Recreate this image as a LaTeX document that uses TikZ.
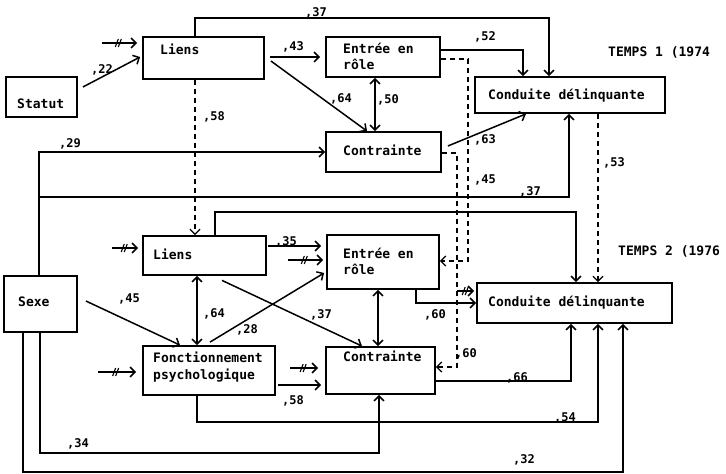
\documentclass[tikz,border=0pt]{standalone}
\usepackage{fontspec}
\setmonofont{DejaVu Sans Mono}
\usetikzlibrary{arrows.meta,decorations.markings}
\begin{document}
\begin{tikzpicture}[x=1pt,y=-1pt,
  box/.style={draw, line width=1.8pt, inner sep=0pt},
  txt/.style={font=\ttfamily\bfseries\fontsize{13}{16}\selectfont, inner sep=0pt, anchor=base west},
  lab/.style={font=\ttfamily\bfseries\fontsize{12}{14}\selectfont, inner sep=0pt, anchor=base west},
  conn/.style={line width=1.5pt, -{Straight Barb[length=5pt,width=10pt]}},
  both/.style={line width=1.5pt, {Straight Barb[length=5pt,width=10pt]}-{Straight Barb[length=5pt,width=10pt]}},
  dconn/.style={conn, line width=1.3pt, dash pattern=on 5pt off 4pt},
  exo/.style={conn, postaction={decorate}, decoration={markings, mark=at position 0.45 with {\draw[line width=1.1pt,-] (-2.5pt,-4pt) -- (0.5pt,4pt); \draw[line width=1.1pt,-] (0.5pt,-4pt) -- (3.5pt,4pt);}}}
]
\fill[white] (0,0) rectangle (726,474);
\useasboundingbox (0,0) rectangle (726,474);

% ---- boxes, TEMPS 1
\node[box, minimum width=121pt, minimum height=42pt] (liensA) at (203.5,58) {};
\node[box, minimum width=71pt, minimum height=40pt] (statut) at (41.5,97) {};
\node[box, minimum width=114pt, minimum height=40pt] (entreeA) at (383,57) {};
\node[box, minimum width=115pt, minimum height=40pt] (contrA) at (383.5,152) {};
\node[box, minimum width=190pt, minimum height=36pt] (condA) at (570,95) {};
% ---- boxes, TEMPS 2
\node[box, minimum width=73pt, minimum height=56pt] (sexe) at (40.5,304) {};
\node[box, minimum width=123pt, minimum height=39pt] (liensB) at (204.5,255.5) {};
\node[box, minimum width=112pt, minimum height=54pt] (entreeB) at (383,262) {};
\node[box, minimum width=195pt, minimum height=40pt] (condB) at (574.5,303) {};
\node[box, minimum width=132pt, minimum height=49pt] (fonct) at (209,370.5) {};
\node[box, minimum width=109pt, minimum height=47pt] (contrB) at (380.5,370.5) {};

% ---- texts
\node[txt] (tLiensA) at (160,54) {Liens};
\node[txt] (tStatut) at (17,108) {Statut};
\node[txt] (tEntA1) at (343,53) {Entrée en};
\node[txt] (tEntA2) at (343,69) {rôle};
\node[txt] (tContrA) at (343,155) {Contrainte};
\node[txt] (tCondA) at (488,99) {Conduite délinquante};
\node[txt] (tTemps1) at (608,56) {TEMPS 1 (1974};
\node[txt] (tSexe) at (18,306) {Sexe};
\node[txt] (tLiensB) at (153,259) {Liens};
\node[txt] (tEntB1) at (343,258) {Entrée en};
\node[txt] (tEntB2) at (343,274) {rôle};
\node[txt] (tTemps2) at (618,255) {TEMPS 2 (1976};
\node[txt] (tCondB) at (488,306) {Conduite délinquante};
\node[txt] (tFonct1) at (153,362) {Fonctionnement};
\node[txt] (tFonct2) at (153,379) {psychologique};
\node[txt] (tContrB) at (343,361) {Contrainte};

% ---- bend coordinates
\coordinate (b37) at (549,18);
\coordinate (c45) at (468,150);
\coordinate (c60) at (457,250);
\coordinate (j37) at (39,197);
\coordinate (c12) at (400,212);
\coordinate (c54) at (400,422);
\coordinate (c34) at (200,453);
\coordinate (c32) at (300,472);

% ---- exogenous arrows
\coordinate (ex1) at (102,43);
\coordinate (ex2) at (112,248);
\coordinate (ex3) at (288,260);
\coordinate (ex4) at (98,372);
\coordinate (ex5) at (290,368);
\coordinate (ex6) at (457,291);
\draw[exo] (ex1) -- ([shift={(-5pt,15pt)}]liensA.west);
\draw[exo] (ex2) -- ([shift={(-4pt,7.5pt)}]liensB.west);
\draw[exo] (ex3) -- ([shift={(-3pt,2pt)}]entreeB.west);
\draw[exo] (ex4) -- ([shift={(-6pt,-1.5pt)}]fonct.west);
\draw[exo] (ex5) -- ([shift={(-7pt,2.5pt)}]contrB.west);
\draw[exo] (ex6) -- ([shift={(-2pt,12pt)}]condB.west);

% ---- TEMPS 1 connectors
\draw[conn] ([xshift=-8.5pt]liensA.north) |- (b37) -- ([xshift=-21pt]condA.north);
\draw[conn] ([shift={(5pt,10pt)}]statut.east) -- ([shift={(-2pt,1pt)}]liensA.west);
\draw[conn] ([shift={(5pt,1pt)}]liensA.east) -- ([xshift=-5pt]entreeA.west);
\draw[conn] ([shift={(6pt,-3pt)}]liensA.east) -- ([xshift=-16.5pt]contrA.north);
\draw[both] ([xshift=-8pt]entreeA.south) -- ([xshift=-8.5pt]contrA.north);
\draw[conn] ([yshift=7pt]entreeA.east) -| ([xshift=-47pt]condA.north);
\draw[conn] ([shift={(6pt,6pt)}]contrA.east) -- ([xshift=-44pt]condA.south);

% ---- dashed (stability) connectors
\draw[dconn] ([yshift=-2pt]entreeA.east) -| (c45) |- ([yshift=1pt]entreeB.east);
\draw[dconn] ([yshift=-1pt]contrA.east) -| (c60) |- ([yshift=3.5pt]contrB.east);
\draw[dconn] ([xshift=28pt]condA.south) -- ([xshift=23.5pt]condB.north);
\draw[dconn] ([xshift=-8.5pt]liensA.south) -- ([xshift=-9.5pt]liensB.north);

% ---- Sexe to TEMPS 1
\draw[conn] ([xshift=-1.5pt]sexe.north) |- (contrA.west);
\draw[conn] (j37) -| ([xshift=-1pt]condA.south);

% ---- TEMPS 2 connectors
\draw[conn] ([xshift=10.5pt]liensB.north) |- (c12) -| ([xshift=1.5pt]condB.north);
\draw[conn] ([shift={(1pt,9.5pt)}]liensB.east) -- ([shift={(-5pt,16pt)}]entreeB.west);
\draw[conn] ([shift={(8pt,3pt)}]sexe.east) -- ([xshift=-29pt]fonct.north);
\draw[both] ([xshift=-7.5pt]liensB.south) -- ([xshift=-12pt]fonct.north);
\draw[conn] ([shift={(1pt,3pt)}]fonct.north) -- ([shift={(-2pt,-11pt)}]entreeB.west);
\draw[conn] ([shift={(17.5pt,-4.5pt)}]liensB.south) -- ([xshift=-18.5pt]contrB.north);
\draw[both] ([xshift=-5pt]entreeB.south) -- ([xshift=-2.5pt]contrB.north);
\draw[conn] ([xshift=33pt]entreeB.south) |- (condB.west);
\draw[conn] ([shift={(2pt,-14.5pt)}]fonct.east) -- ([shift={(-4pt,-14.5pt)}]contrB.west);
\draw[conn] ([yshift=-10.5pt]contrB.east) -| ([xshift=-3.5pt]condB.south);
\draw[conn] ([xshift=-12pt]fonct.south) |- (c54) -| ([xshift=23.5pt]condB.south);
\draw[conn] ([xshift=-0.5pt]sexe.south) |- (c34) -| ([xshift=-1.5pt]contrB.south);
\draw[conn] ([xshift=-17.5pt]sexe.south) |- (c32) -| ([xshift=48.5pt]condB.south);

% ---- coefficient labels
\node[lab] (l37a) at (305,16) {,37};
\node[lab] (l22) at (91,73) {,22};
\node[lab] (l43) at (282,50) {,43};
\node[lab] (l64a) at (330,102) {,64};
\node[lab] (l50) at (377,103) {,50};
\node[lab] (l52) at (474,40) {,52};
\node[lab] (l63) at (474,143) {,63};
\node[lab] (l45a) at (474,183) {,45};
\node[lab] (l37b) at (519,195) {,37};
\node[lab] (l53) at (603,166) {,53};
\node[lab] (l58a) at (203,120) {,58};
\node[lab] (l29) at (59,147) {,29};
\node[lab] (l35) at (275,245) {,35};
\node[lab] (l45b) at (118,302) {,45};
\node[lab] (l64b) at (203,317) {,64};
\node[lab] (l28) at (236,333) {,28};
\node[lab] (l37c) at (310,318) {,37};
\node[lab] (l60a) at (424,318) {,60};
\node[lab] (l60b) at (455,357) {,60};
\node[lab] (l58b) at (282,404) {,58};
\node[lab] (l66) at (506,381) {,66};
\node[lab] (l54) at (554,421) {,54};
\node[lab] (l34) at (67,447) {,34};
\node[lab] (l32) at (513,463) {,32};
\end{tikzpicture}
\end{document}
